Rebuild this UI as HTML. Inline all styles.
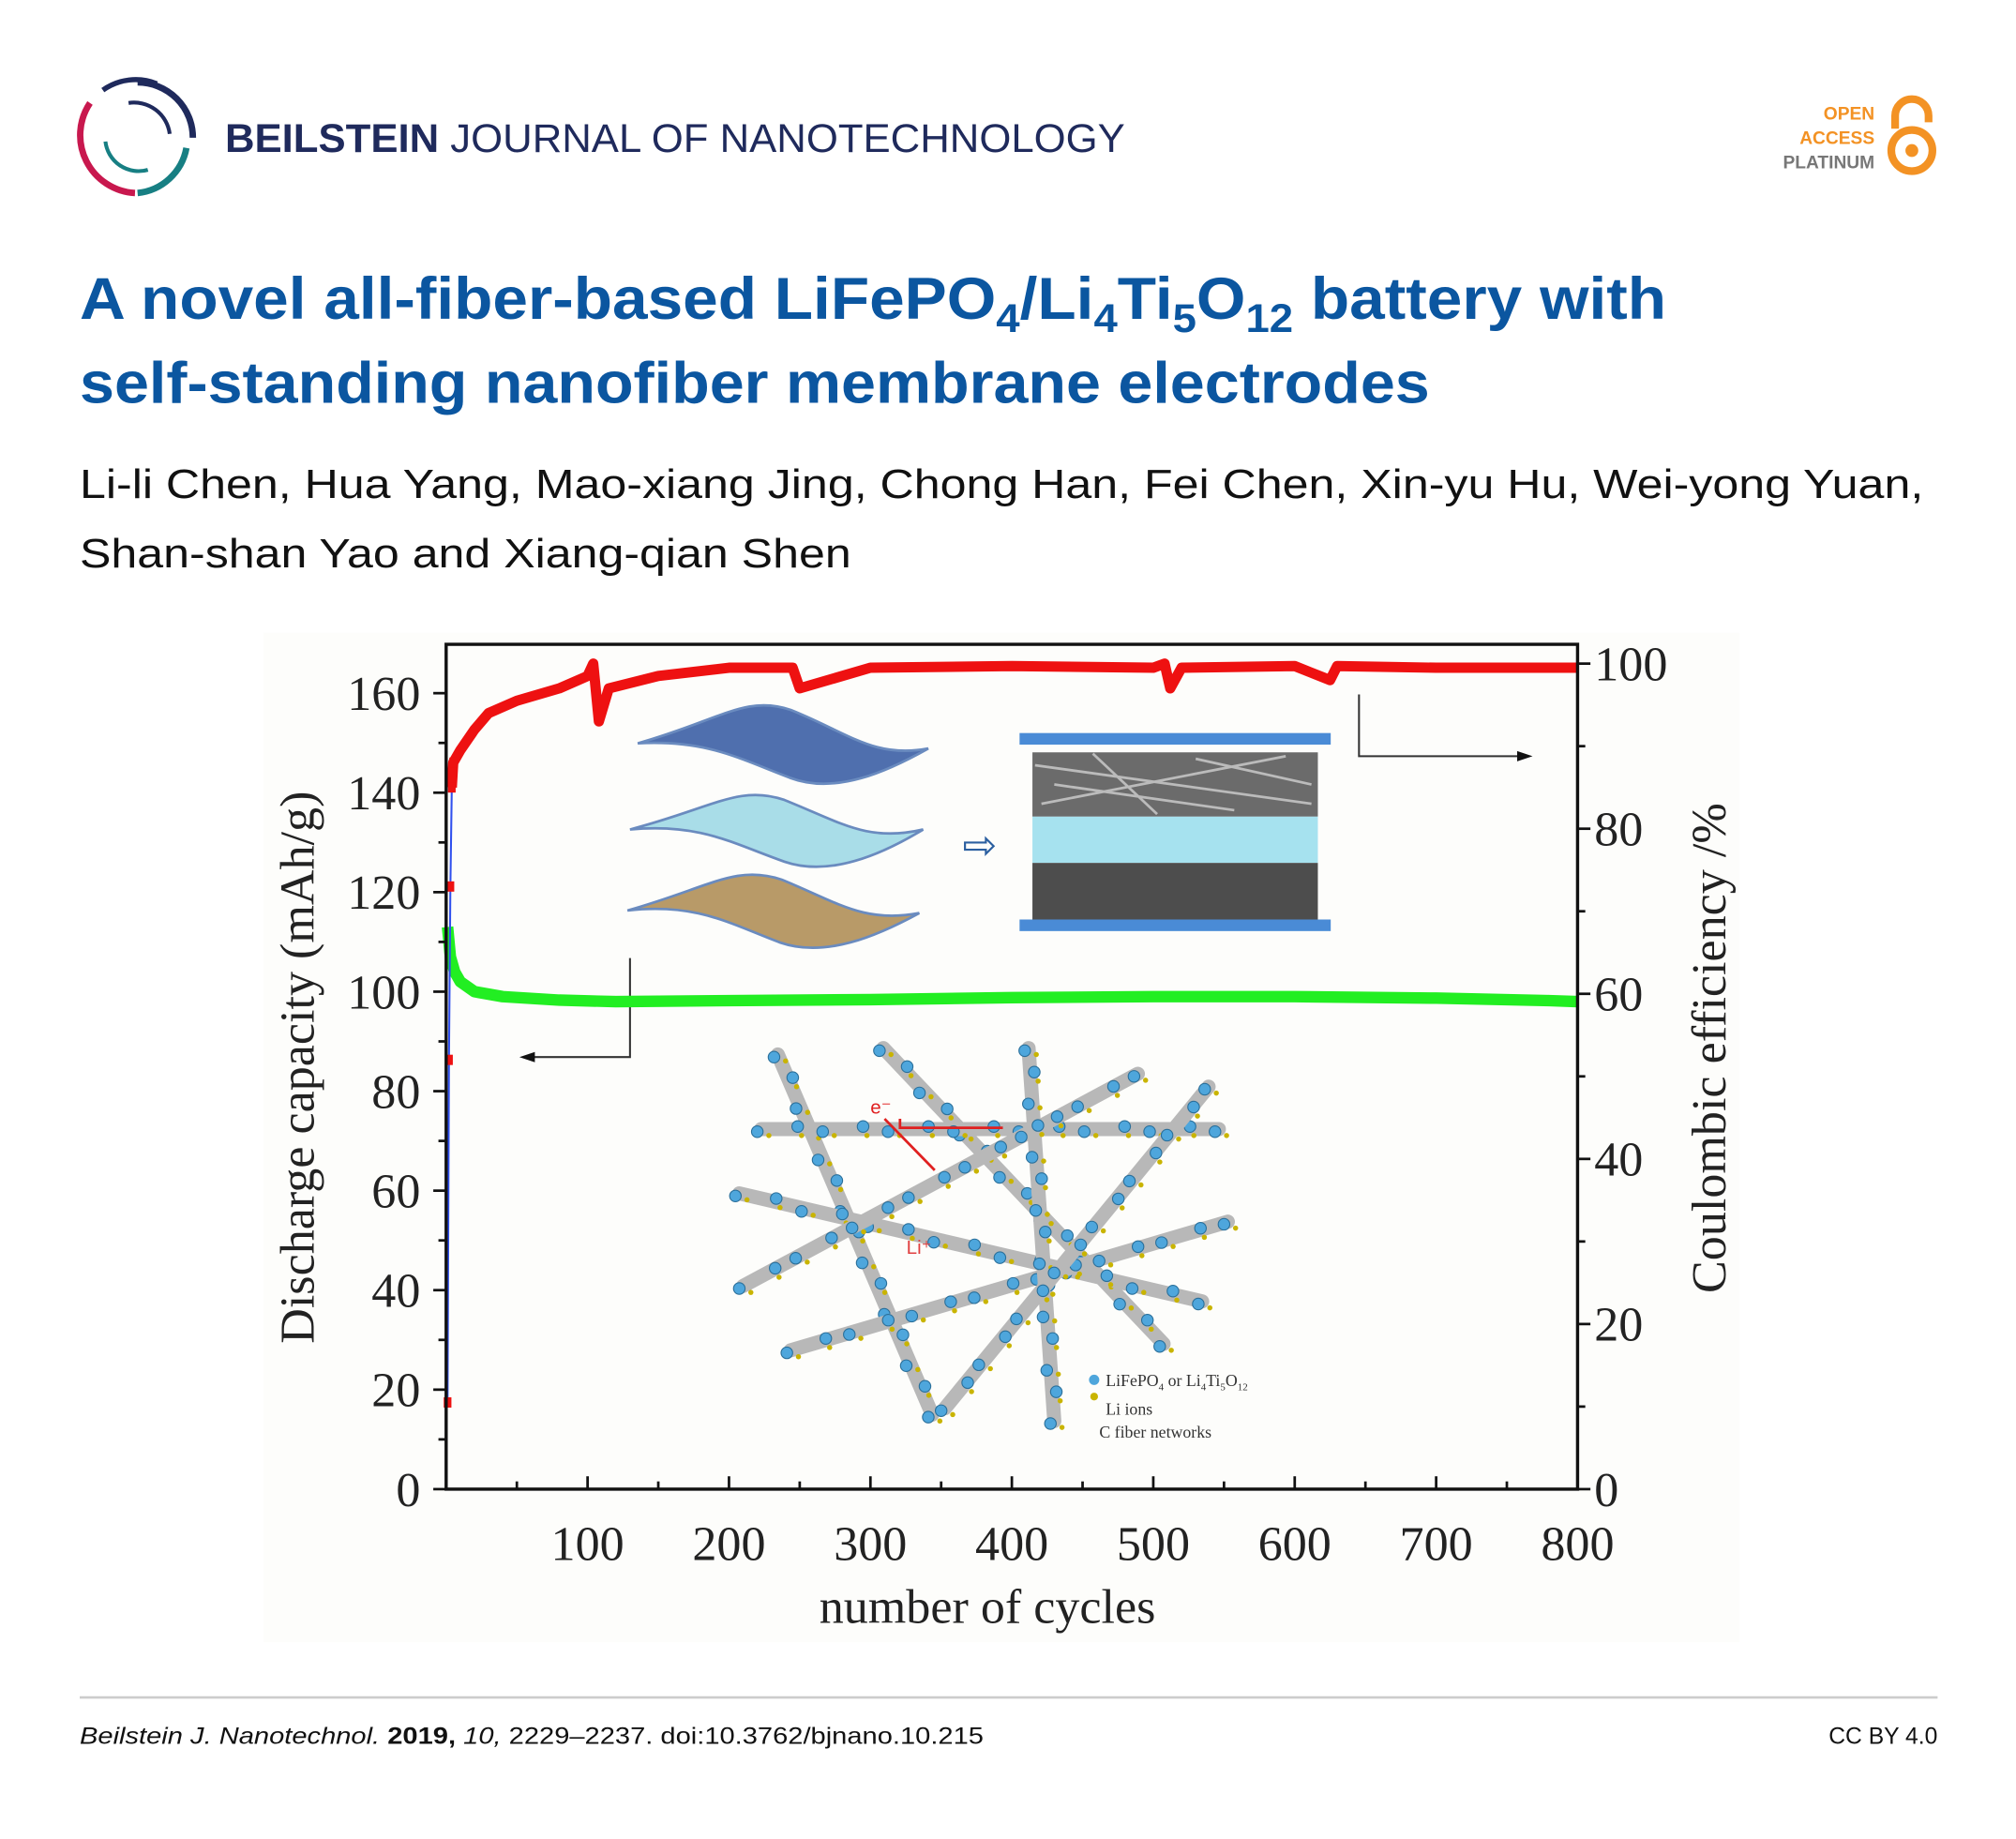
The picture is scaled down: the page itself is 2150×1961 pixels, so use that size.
<!DOCTYPE html>
<html><head><meta charset="utf-8"><style>
html,body{margin:0;padding:0;background:#fff;}
svg{display:block;}
</style></head><body>
<svg id="page" width="2150" height="1961" viewBox="0 0 1568 1430" xmlns="http://www.w3.org/2000/svg">
<!-- header -->
<g>
  <path d="M107,64 A43,43 0 0,1 150,107" fill="none" stroke="#1f2a5c" stroke-width="5"/>
  <path d="M80,70 A44,44 0 0,1 122,65" fill="none" stroke="#1f2a5c" stroke-width="4"/>
  <path d="M70,80 A45,45 0 0,0 105,150" fill="none" stroke="#c8184e" stroke-width="5"/>
  <path d="M107,150 A43,43 0 0,0 145,115" fill="none" stroke="#177f83" stroke-width="5"/>
  <path d="M100,80 A28,28 0 0,1 132,104" fill="none" stroke="#1f2a5c" stroke-width="3"/>
  <path d="M82,110 A26,26 0 0,0 115,132" fill="none" stroke="#177f83" stroke-width="3"/>
</g>
<text x="175" y="118" font-family="Liberation Sans, sans-serif" font-size="31" fill="#1f2a5c" textLength="700" lengthAdjust="spacingAndGlyphs"><tspan font-weight="bold">BEILSTEIN</tspan> JOURNAL OF NANOTECHNOLOGY</text>
<g font-family="Liberation Sans, sans-serif" font-weight="bold" font-size="14" text-anchor="end">
  <text x="1458" y="93" fill="#f39224">OPEN</text>
  <text x="1458" y="112" fill="#f39224">ACCESS</text>
  <text x="1458" y="131" fill="#777">PLATINUM</text>
  <path d="M1474,100 V90 A13,13 0 0,1 1500,90 V95" fill="none" stroke="#f39224" stroke-width="6"/>
  <circle cx="1487" cy="117" r="16" fill="none" stroke="#f39224" stroke-width="6"/>
  <circle cx="1487" cy="117" r="5" fill="#f39224"/>
</g>
<text x="62" y="248" font-family="Liberation Sans, sans-serif" font-weight="bold" font-size="46" fill="#0b56a0" textLength="1234" lengthAdjust="spacingAndGlyphs">A novel all-fiber-based LiFePO<tspan font-size="31" dy="10">4</tspan><tspan dy="-10">/Li</tspan><tspan font-size="31" dy="10">4</tspan><tspan dy="-10">Ti</tspan><tspan font-size="31" dy="10">5</tspan><tspan dy="-10">O</tspan><tspan font-size="31" dy="10">12</tspan><tspan dy="-10"> battery with</tspan></text>
<text x="62" y="313" font-family="Liberation Sans, sans-serif" font-weight="bold" font-size="45" fill="#0b56a0" textLength="1050" lengthAdjust="spacingAndGlyphs">self-standing nanofiber membrane electrodes</text>
<text x="62" y="387" font-family="Liberation Sans, sans-serif" font-size="32" fill="#111" textLength="1434" lengthAdjust="spacingAndGlyphs">Li-li Chen, Hua Yang, Mao-xiang Jing, Chong Han, Fei Chen, Xin-yu Hu, Wei-yong Yuan,</text>
<text x="62" y="441" font-family="Liberation Sans, sans-serif" font-size="32" fill="#111" textLength="600" lengthAdjust="spacingAndGlyphs">Shan-shan Yao and Xiang-qian Shen</text>

<!-- figure background -->
<rect x="205" y="492" width="1148" height="785" fill="#fdfdfb"/>

<!-- insets -->
<g stroke="#6a8bbf" stroke-width="2">
  <path d="M496,578 C560,560 580,540 615,552 C660,570 680,590 722,582 C690,600 650,618 615,605 C575,590 550,575 496,578Z" fill="#4f6fae"/>
  <path d="M490,645 C555,628 575,610 610,622 C655,640 675,655 718,645 C685,665 645,682 610,670 C570,656 545,640 490,645Z" fill="#a9dde8"/>
  <path d="M488,708 C552,690 572,672 608,684 C652,702 672,718 715,710 C682,728 642,745 607,733 C567,718 542,702 488,708Z" fill="#b89a68"/>
</g>
<text x="762" y="668" font-family="DejaVu Sans, sans-serif" font-size="32" fill="#2b5fa0" text-anchor="middle">⇨</text>
<g>
  <rect x="793" y="570" width="242" height="9" fill="#4a8bd6"/>
  <rect x="803" y="585" width="222" height="50" fill="#6b6b6b"/>
  <path d="M805,595 L1020,625 M810,625 L1000,588 M850,586 L900,633 M930,590 L1020,610 M820,610 L960,630" stroke="#bbb" stroke-width="2" fill="none"/>
  <rect x="803" y="635" width="222" height="36" fill="#a6e2ef"/>
  <rect x="803" y="671" width="222" height="44" fill="#4d4d4d"/>
  <rect x="793" y="715" width="242" height="9" fill="#4a8bd6"/>
</g>
<g stroke="#333" stroke-width="1.5" fill="#111">
  <polyline points="490,745 490,822 412,822" fill="none"/>
  <polygon points="404,822 416,818 416,826" stroke="none"/>
  <polyline points="1057,540 1057,588 1182,588" fill="none"/>
  <polygon points="1192,588 1180,584 1180,592" stroke="none"/>
</g>
<g id="fibers"></g>
<g font-family="Liberation Serif, serif" font-size="13" fill="#333">
  <circle cx="851" cy="1073" r="4" fill="#4ea6dc"/>
  <text x="860" y="1078">LiFePO<tspan font-size="8" dy="3">4</tspan><tspan dy="-3"> or Li</tspan><tspan font-size="8" dy="3">4</tspan><tspan dy="-3">Ti</tspan><tspan font-size="8" dy="3">5</tspan><tspan dy="-3">O</tspan><tspan font-size="8" dy="3">12</tspan></text>
  <circle cx="851" cy="1086" r="3" fill="#c9b400"/>
  <text x="860" y="1100">Li ions</text>
  <text x="855" y="1118">C fiber networks</text>
</g>
<g id="chart"></g>

<!-- footer -->
<line x1="62" y1="1320" x2="1507" y2="1320" stroke="#ccc" stroke-width="2"/>
<text x="62" y="1356" font-family="Liberation Sans, sans-serif" font-size="18" fill="#111" textLength="703" lengthAdjust="spacingAndGlyphs"><tspan font-style="italic">Beilstein J. Nanotechnol.</tspan> <tspan font-weight="bold">2019,</tspan> <tspan font-style="italic">10,</tspan> 2229–2237. doi:10.3762/bjnano.10.215</text>
<text x="1507" y="1356" font-family="Liberation Sans, sans-serif" font-size="18" fill="#111" text-anchor="end">CC BY 4.0</text>
</svg>
<script>
// ---- chart data ----
const capCycles = [1, 3, 6, 10, 20, 40, 80, 120, 200, 300, 400, 500, 600, 700, 780, 800];
const capValues = [113, 107, 104, 102, 100, 99, 98.3, 98, 98.2, 98.4, 98.8, 99, 99, 98.7, 98.2, 98];
const ceCycles = [1, 2, 3, 4, 5, 10, 20, 30, 50, 80, 100, 104, 108, 115, 150, 200, 245, 250, 300, 400, 500, 508, 512, 520, 600, 625, 630, 700, 800];
const ceValues = [10.5, 52, 73, 85, 88, 89.5, 92, 94, 95.5, 97, 98.5, 100, 93, 97, 98.5, 99.5, 99.5, 97, 99.5, 99.7, 99.5, 100, 97, 99.5, 99.7, 98, 99.7, 99.5, 99.5];
const xTicks = [100, 200, 300, 400, 500, 600, 700, 800];
const yLeftTicks = [0, 20, 40, 60, 80, 100, 120, 140, 160];
const yRightTicks = [0, 20, 40, 60, 80, 100];

const NS = "http://www.w3.org/2000/svg";
const X0 = 347, X1 = 1227, YT = 501, YB = 1158;
const xs = c => X0 + (c / 800) * (X1 - X0);
const yl = v => YB - (v / 160) * (YB - 539);
const yr = v => YB - (v / 100) * (YB - 516);
const chart = document.getElementById('chart');
function mk(tag, attrs, parent) {
  const e = document.createElementNS(NS, tag);
  for (const k in attrs) e.setAttribute(k, attrs[k]);
  (parent || chart).appendChild(e);
  return e;
}
// series
const capPts = capCycles.map((c, i) => xs(c) + ',' + yl(capValues[i])).join(' ');
const cap = mk('polyline', {points: capPts, fill: 'none', stroke: '#22ee22', 'stroke-width': 9, 'stroke-linejoin': 'round'});


const cePts = ceCycles.map((c, i) => xs(c) + ',' + yr(ceValues[i])).filter((p, i) => i >= 3).join(' ');
const ce = mk('polyline', {points: cePts, fill: 'none', stroke: '#ee1111', 'stroke-width': 8, 'stroke-linejoin': 'round'});


const ceThin = mk('polyline', {points: ceCycles.slice(0, 4).map((c, i) => xs(c) + ',' + yr(ceValues[i])).join(' '), fill: 'none', stroke: '#3050ee', 'stroke-width': 1.5});


ceCycles.forEach((c, i) => {
  if (i < 5) {
    const p = mk('rect', {x: xs(c) - 3, y: yr(ceValues[i]) - 4, width: 6, height: 8, fill: '#ee1111'});
    
    
  }
});
// axes frame
const frame = mk('rect', {x: X0, y: YT, width: X1 - X0, height: YB - YT, fill: 'none', stroke: '#111', 'stroke-width': 2.5});


const F = 'Liberation Serif, serif';
xTicks.forEach(t => {
  const l = mk('line', {x1: xs(t), x2: xs(t), y1: YB, y2: YB - 10, stroke: '#111', 'stroke-width': 2});
  
  
  const m = mk('line', {x1: xs(t - 50), x2: xs(t - 50), y1: YB, y2: YB - 6, stroke: '#111', 'stroke-width': 2});
  
  
  const tx = mk('text', {x: xs(t), y: 1213, 'font-family': F, 'font-size': 38, 'text-anchor': 'middle', fill: '#222'});
  tx.textContent = t;
  
  
});
yLeftTicks.forEach(t => {
  const l = mk('line', {x1: X0, x2: X0 - 10, y1: yl(t), y2: yl(t), stroke: '#111', 'stroke-width': 2});
  
  
  if (t < 160) {
    const m = mk('line', {x1: X0, x2: X0 - 6, y1: yl(t + 10), y2: yl(t + 10), stroke: '#111', 'stroke-width': 2});
    
    
  }
  const tx = mk('text', {x: 327, y: yl(t) + 13, 'font-family': F, 'font-size': 38, 'text-anchor': 'end', fill: '#222'});
  tx.textContent = t;
  
  
});
yRightTicks.forEach(t => {
  const l = mk('line', {x1: X1, x2: X1 + 10, y1: yr(t), y2: yr(t), stroke: '#111', 'stroke-width': 2});
  
  
  if (t < 100) {
    const m = mk('line', {x1: X1, x2: X1 + 6, y1: yr(t + 10), y2: yr(t + 10), stroke: '#111', 'stroke-width': 2});
    
    
  }
  const tx = mk('text', {x: 1240, y: yr(t) + 13, 'font-family': F, 'font-size': 38, fill: '#222'});
  tx.textContent = t;
  
  
});
const xt = mk('text', {x: 768, y: 1262, 'font-family': F, 'font-size': 38, 'text-anchor': 'middle', fill: '#222'});
xt.textContent = 'number of cycles';


const ylt = mk('text', {x: 0, y: 0, 'font-family': F, 'font-size': 38, 'text-anchor': 'middle', fill: '#222', transform: 'translate(244,830) rotate(-90)'});
ylt.textContent = 'Discharge capacity (mAh/g)';


const yrt = mk('text', {x: 0, y: 0, 'font-family': F, 'font-size': 38, 'text-anchor': 'middle', fill: '#222', transform: 'translate(1342,815) rotate(-90)'});
yrt.textContent = 'Coulombic efficiency /%';



// fiber network illustration
const fib = document.getElementById('fibers');
const fibers = [[605,820,725,1100],[687,815,905,1045],[592,878,948,878],[575,928,935,1012],[578,1000,885,835],[615,1050,955,950],[800,815,820,1105],[735,1095,940,845]];
fibers.forEach(f => {
  const l = mk('line', {x1: f[0], y1: f[1], x2: f[2], y2: f[3], stroke: '#b8b8b8', 'stroke-width': 11, 'stroke-linecap': 'round'}, fib);
  
  
  const n = 14;
  for (let k = 0; k <= n; k++) {
    const x = f[0] + (f[2] - f[0]) * k / n, y = f[1] + (f[3] - f[1]) * k / n;
    const c = mk('circle', {cx: x + (k % 2 ? 3 : -3), cy: y + (k % 2 ? -2 : 2), r: 4.5, fill: '#4ea6dc', stroke: '#2a6f9a', 'stroke-width': 0.8}, fib);
    
    
    const d = mk('circle', {cx: x + 6, cy: y + 5, r: 2, fill: '#c9b400'}, fib);
    
    
  }
});
const ea = mk('polyline', {points: '700,870 700,877 780,877', fill: 'none', stroke: '#e02020', 'stroke-width': 2}, fib);


const eb = mk('line', {x1: 688, y1: 870, x2: 727, y2: 910, stroke: '#e02020', 'stroke-width': 2}, fib);


const et = mk('text', {x: 677, y: 866, 'font-family': 'Liberation Sans, sans-serif', 'font-size': 15, fill: '#e02020'}, fib);
et.textContent = 'e⁻';


const lt = mk('text', {x: 705, y: 975, 'font-family': 'Liberation Sans, sans-serif', 'font-size': 15, fill: '#e04040'}, fib);
lt.textContent = 'Li⁺';


</script>
</body></html>
